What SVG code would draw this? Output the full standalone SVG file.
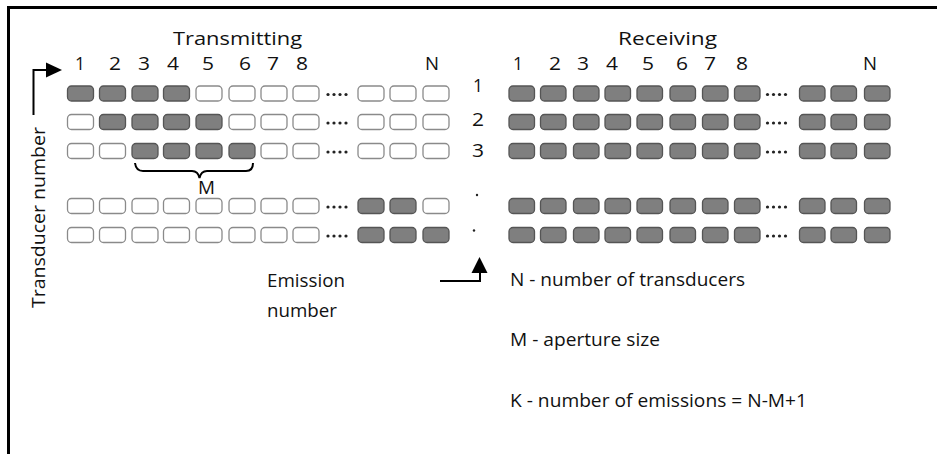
<svg xmlns="http://www.w3.org/2000/svg" width="937" height="454" viewBox="0 0 937 454">
<defs>
<style>
text{font-family:"Open Sans","Liberation Sans",sans-serif;fill:#111;}
.t{font-size:19px;}
.e{fill:#fff;stroke:#8a8a8a;stroke-width:1.3;}
.f{fill:#7f7f7f;stroke:#555;stroke-width:1.3;}
.dot{fill:#222;}
.ln{fill:none;stroke:#000;stroke-width:2;}
</style>
</defs>
<rect x="0" y="0" width="937" height="454" fill="#fff"/>
<path d="M8.5,454 V7.5 H937" fill="none" stroke="#000" stroke-width="3"/>

<g id="labels">
<text class="t" x="173" y="45" textLength="129" lengthAdjust="spacingAndGlyphs">Transmitting</text>
<text class="t" x="618" y="45" textLength="99" lengthAdjust="spacingAndGlyphs">Receiving</text>
<g text-anchor="middle" class="t" lengthAdjust="spacingAndGlyphs">
<text x="80" y="70" textLength="10" lengthAdjust="spacingAndGlyphs">1</text><text x="115" y="70" textLength="12" lengthAdjust="spacingAndGlyphs">2</text><text x="144" y="70" textLength="12" lengthAdjust="spacingAndGlyphs">3</text><text x="173" y="70" textLength="12" lengthAdjust="spacingAndGlyphs">4</text><text x="208" y="70" textLength="12" lengthAdjust="spacingAndGlyphs">5</text><text x="245" y="70" textLength="12" lengthAdjust="spacingAndGlyphs">6</text><text x="273" y="70" textLength="12" lengthAdjust="spacingAndGlyphs">7</text><text x="302" y="70" textLength="12" lengthAdjust="spacingAndGlyphs">8</text><text x="432" y="70" textLength="14" lengthAdjust="spacingAndGlyphs">N</text>
<text x="518" y="70" textLength="10" lengthAdjust="spacingAndGlyphs">1</text><text x="555" y="70" textLength="12" lengthAdjust="spacingAndGlyphs">2</text><text x="583" y="70" textLength="12" lengthAdjust="spacingAndGlyphs">3</text><text x="612" y="70" textLength="12" lengthAdjust="spacingAndGlyphs">4</text><text x="648" y="70" textLength="12" lengthAdjust="spacingAndGlyphs">5</text><text x="682" y="70" textLength="12" lengthAdjust="spacingAndGlyphs">6</text><text x="710" y="70" textLength="12" lengthAdjust="spacingAndGlyphs">7</text><text x="742" y="70" textLength="12" lengthAdjust="spacingAndGlyphs">8</text><text x="870" y="70" textLength="14" lengthAdjust="spacingAndGlyphs">N</text>
<text x="478" y="92" textLength="10" lengthAdjust="spacingAndGlyphs">1</text><text x="478" y="126" textLength="12" lengthAdjust="spacingAndGlyphs">2</text><text x="478" y="157" textLength="12" lengthAdjust="spacingAndGlyphs">3</text>
</g>
<circle class="dot" cx="477" cy="195" r="1.2"/><circle class="dot" cx="474" cy="230.5" r="1.2"/>
<text class="t" x="198" y="194" textLength="17" lengthAdjust="spacingAndGlyphs">M</text>
<text class="t" transform="translate(45,308) rotate(-90)" textLength="181" lengthAdjust="spacingAndGlyphs">Transducer number</text>
<text class="t" x="267" y="287" textLength="78" lengthAdjust="spacingAndGlyphs">Emission</text>
<text class="t" x="267" y="317" textLength="70" lengthAdjust="spacingAndGlyphs">number</text>
<text class="t" x="510" y="286" textLength="235" lengthAdjust="spacingAndGlyphs">N - number of transducers</text>
<text class="t" x="510" y="346" textLength="150" lengthAdjust="spacingAndGlyphs">M - aperture size</text>
<text class="t" x="510" y="407" textLength="297" lengthAdjust="spacingAndGlyphs">K - number of emissions = N-M+1</text>
</g>

<g id="transmit-row1">
<rect class="f" x="67.5" y="86" width="26" height="15" rx="4"/><rect class="f" x="99.5" y="86" width="26" height="15" rx="4"/><rect class="f" x="132" y="86" width="26" height="15" rx="4"/><rect class="f" x="163.5" y="86" width="26" height="15" rx="4"/><rect class="e" x="196" y="86" width="26" height="15" rx="4"/><rect class="e" x="229" y="86" width="26" height="15" rx="4"/><rect class="e" x="261" y="86" width="26" height="15" rx="4"/><rect class="e" x="293" y="86" width="26" height="15" rx="4"/>
<g class="dot"><circle cx="328" cy="94.5" r="1.6"/><circle cx="334" cy="94.5" r="1.6"/><circle cx="340" cy="94.5" r="1.6"/><circle cx="346" cy="94.5" r="1.6"/></g>
<rect class="e" x="358" y="86" width="26" height="15" rx="4"/><rect class="e" x="390" y="86" width="26" height="15" rx="4"/><rect class="e" x="423" y="86" width="26" height="15" rx="4"/>
</g>
<g id="transmit-row2">
<rect class="e" x="67.5" y="114.5" width="26" height="15" rx="4"/><rect class="f" x="99.5" y="114.5" width="26" height="15" rx="4"/><rect class="f" x="132" y="114.5" width="26" height="15" rx="4"/><rect class="f" x="163.5" y="114.5" width="26" height="15" rx="4"/><rect class="f" x="196" y="114.5" width="26" height="15" rx="4"/><rect class="e" x="229" y="114.5" width="26" height="15" rx="4"/><rect class="e" x="261" y="114.5" width="26" height="15" rx="4"/><rect class="e" x="293" y="114.5" width="26" height="15" rx="4"/>
<g class="dot"><circle cx="328" cy="123" r="1.6"/><circle cx="334" cy="123" r="1.6"/><circle cx="340" cy="123" r="1.6"/><circle cx="346" cy="123" r="1.6"/></g>
<rect class="e" x="358" y="114.5" width="26" height="15" rx="4"/><rect class="e" x="390" y="114.5" width="26" height="15" rx="4"/><rect class="e" x="423" y="114.5" width="26" height="15" rx="4"/>
</g>
<g id="transmit-row3">
<rect class="e" x="67.5" y="143.5" width="26" height="15" rx="4"/><rect class="e" x="99.5" y="143.5" width="26" height="15" rx="4"/><rect class="f" x="132" y="143.5" width="26" height="15" rx="4"/><rect class="f" x="163.5" y="143.5" width="26" height="15" rx="4"/><rect class="f" x="196" y="143.5" width="26" height="15" rx="4"/><rect class="f" x="229" y="143.5" width="26" height="15" rx="4"/><rect class="e" x="261" y="143.5" width="26" height="15" rx="4"/><rect class="e" x="293" y="143.5" width="26" height="15" rx="4"/>
<g class="dot"><circle cx="328" cy="152" r="1.6"/><circle cx="334" cy="152" r="1.6"/><circle cx="340" cy="152" r="1.6"/><circle cx="346" cy="152" r="1.6"/></g>
<rect class="e" x="358" y="143.5" width="26" height="15" rx="4"/><rect class="e" x="390" y="143.5" width="26" height="15" rx="4"/><rect class="e" x="423" y="143.5" width="26" height="15" rx="4"/>
</g>
<g id="transmit-row4">
<rect class="e" x="67.5" y="198.5" width="26" height="15" rx="4"/><rect class="e" x="99.5" y="198.5" width="26" height="15" rx="4"/><rect class="e" x="132" y="198.5" width="26" height="15" rx="4"/><rect class="e" x="163.5" y="198.5" width="26" height="15" rx="4"/><rect class="e" x="196" y="198.5" width="26" height="15" rx="4"/><rect class="e" x="229" y="198.5" width="26" height="15" rx="4"/><rect class="e" x="261" y="198.5" width="26" height="15" rx="4"/><rect class="e" x="293" y="198.5" width="26" height="15" rx="4"/>
<g class="dot"><circle cx="328" cy="207" r="1.6"/><circle cx="334" cy="207" r="1.6"/><circle cx="340" cy="207" r="1.6"/><circle cx="346" cy="207" r="1.6"/></g>
<rect class="f" x="358" y="198.5" width="26" height="15" rx="4"/><rect class="f" x="390" y="198.5" width="26" height="15" rx="4"/><rect class="e" x="423" y="198.5" width="26" height="15" rx="4"/>
</g>
<g id="transmit-row5">
<rect class="e" x="67.5" y="227.5" width="26" height="15" rx="4"/><rect class="e" x="99.5" y="227.5" width="26" height="15" rx="4"/><rect class="e" x="132" y="227.5" width="26" height="15" rx="4"/><rect class="e" x="163.5" y="227.5" width="26" height="15" rx="4"/><rect class="e" x="196" y="227.5" width="26" height="15" rx="4"/><rect class="e" x="229" y="227.5" width="26" height="15" rx="4"/><rect class="e" x="261" y="227.5" width="26" height="15" rx="4"/><rect class="e" x="293" y="227.5" width="26" height="15" rx="4"/>
<g class="dot"><circle cx="328" cy="236" r="1.6"/><circle cx="334" cy="236" r="1.6"/><circle cx="340" cy="236" r="1.6"/><circle cx="346" cy="236" r="1.6"/></g>
<rect class="f" x="358" y="227.5" width="26" height="15" rx="4"/><rect class="f" x="390" y="227.5" width="26" height="15" rx="4"/><rect class="f" x="423" y="227.5" width="26" height="15" rx="4"/>
</g>

<defs>
<g id="rxrow">
<rect class="f" x="509" y="0" width="25.5" height="15" rx="4"/><rect class="f" x="540.5" y="0" width="25.5" height="15" rx="4"/><rect class="f" x="573.5" y="0" width="25.5" height="15" rx="4"/><rect class="f" x="605" y="0" width="25.5" height="15" rx="4"/><rect class="f" x="637" y="0" width="25.5" height="15" rx="4"/><rect class="f" x="670" y="0" width="25.5" height="15" rx="4"/><rect class="f" x="702.5" y="0" width="25.5" height="15" rx="4"/><rect class="f" x="734.5" y="0" width="25.5" height="15" rx="4"/>
<circle class="dot" cx="767.5" cy="8.5" r="1.6"/><circle class="dot" cx="773.5" cy="8.5" r="1.6"/><circle class="dot" cx="779.5" cy="8.5" r="1.6"/><circle class="dot" cx="785.5" cy="8.5" r="1.6"/>
<rect class="f" x="799.5" y="0" width="25.5" height="15" rx="4"/><rect class="f" x="831" y="0" width="25.5" height="15" rx="4"/><rect class="f" x="864.5" y="0" width="25.5" height="15" rx="4"/>
</g>
</defs>
<g id="receive-row1"><use href="#rxrow" y="86"/></g>
<g id="receive-row2"><use href="#rxrow" y="114.5"/></g>
<g id="receive-row3"><use href="#rxrow" y="143.5"/></g>
<g id="receive-row4"><use href="#rxrow" y="198.5"/></g>
<g id="receive-row5"><use href="#rxrow" y="227.5"/></g>

<g id="connectors">
<path class="ln" d="M33.5,115 V70 H46"/>
<path d="M46,62.5 L62,70 L46,77.5 Z" fill="#000"/>
<path class="ln" d="M440,281 H480 V272"/>
<path d="M471.5,273 L479.5,257 L487.5,273 Z" fill="#000"/>
<path class="ln" d="M135,163 Q136,171 143,171 H192 Q198,171 199.5,178 Q201,171 207,171 H246 Q253,171 253,163"/>
</g>
</svg>
